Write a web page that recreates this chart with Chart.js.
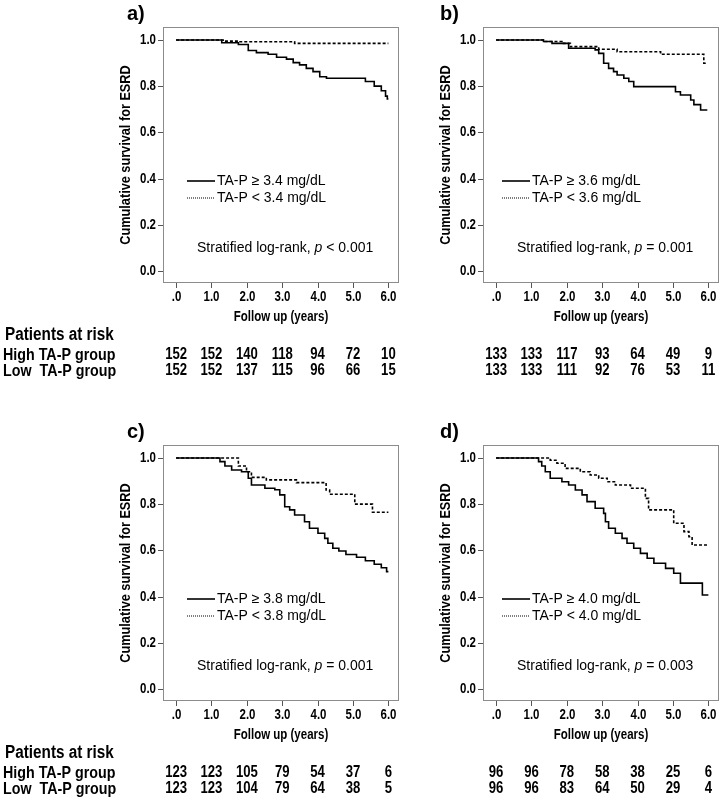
<!DOCTYPE html>
<html>
<head>
<meta charset="utf-8">
<script src="https://cdn.jsdelivr.net/npm/chart.js@4.4.1/dist/chart.umd.min.js"></script>
<style>
  body { margin: 0; background: #fff; }
  #wrap { position: relative; width: 723px; height: 800px; overflow: hidden; }
  canvas { position: absolute; }
</style>
</head>
<body>
<div id="wrap">
  <canvas id="chartA" width="403" height="400" style="left:0;top:0"></canvas>
  <canvas id="chartB" width="403" height="400" style="left:320px;top:0"></canvas>
  <canvas id="chartC" width="403" height="382" style="left:0;top:418px"></canvas>
  <canvas id="chartD" width="403" height="382" style="left:320px;top:418px"></canvas>
</div>
<script>
// follow-up time (years) of each step and survival after it
var aHighT = [0, 1.29, 1.76, 2.04, 2.27, 2.60, 2.84, 3.12, 3.31, 3.49, 3.68, 3.87, 4.06, 4.25, 5.35, 5.60, 5.80, 5.92, 5.97, 6.0];
var aHighS = [1, 0.988, 0.980, 0.954, 0.945, 0.938, 0.925, 0.917, 0.902, 0.892, 0.877, 0.863, 0.841, 0.834, 0.820, 0.800, 0.780, 0.757, 0.745, 0.745];
var aLowT = [0, 1.33, 1.75, 3.35, 6.0];
var aLowS = [1, 0.995, 0.992, 0.985, 0.985];

var bHighT = [0, 1.34, 1.58, 2.05, 2.80, 2.90, 3.04, 3.18, 3.32, 3.42, 3.61, 3.75, 3.89, 5.07, 5.21, 5.50, 5.59, 5.78, 5.97];
var bHighS = [1, 0.993, 0.985, 0.964, 0.957, 0.942, 0.899, 0.877, 0.863, 0.848, 0.834, 0.820, 0.798, 0.776, 0.762, 0.740, 0.720, 0.697, 0.697];
var bLowT = [0, 1.38, 1.86, 2.10, 2.90, 3.42, 4.65, 5.87, 5.97];
var bLowS = [1, 0.993, 0.985, 0.971, 0.960, 0.949, 0.938, 0.899, 0.899];

var cHighT = [0, 1.24, 1.38, 1.57, 1.85, 2.04, 2.13, 2.51, 2.79, 2.93, 3.07, 3.21, 3.35, 3.63, 3.77, 4.01, 4.20, 4.29, 4.43, 4.60, 4.80, 5.10, 5.35, 5.60, 5.80, 5.95, 6.0];
var cHighS = [1, 0.984, 0.965, 0.948, 0.940, 0.912, 0.883, 0.869, 0.862, 0.840, 0.789, 0.775, 0.753, 0.724, 0.696, 0.674, 0.652, 0.631, 0.609, 0.597, 0.582, 0.570, 0.555, 0.540, 0.525, 0.508, 0.508];
var cLowT = [0, 1.76, 1.99, 2.13, 2.55, 3.40, 4.24, 4.34, 5.05, 5.55, 6.0];
var cLowS = [1, 0.965, 0.940, 0.916, 0.905, 0.893, 0.861, 0.843, 0.800, 0.765, 0.765];

var dHighT = [0, 1.20, 1.29, 1.39, 1.53, 1.86, 2.05, 2.24, 2.43, 2.57, 2.80, 3.04, 3.09, 3.18, 3.37, 3.56, 3.70, 3.89, 4.08, 4.27, 4.46, 4.79, 5.02, 5.21, 5.83, 6.0];
var dHighS = [1, 0.984, 0.965, 0.940, 0.912, 0.897, 0.883, 0.861, 0.840, 0.811, 0.782, 0.760, 0.724, 0.696, 0.674, 0.652, 0.631, 0.609, 0.587, 0.566, 0.544, 0.522, 0.501, 0.458, 0.407, 0.407];
var dLowT = [0, 1.53, 1.72, 1.95, 2.38, 2.66, 2.90, 3.14, 3.37, 3.80, 4.22, 4.31, 5.02, 5.31, 5.45, 5.54, 6.0];
var dLowS = [1, 0.990, 0.977, 0.955, 0.940, 0.926, 0.912, 0.897, 0.883, 0.869, 0.825, 0.775, 0.717, 0.681, 0.659, 0.623, 0.623];

// axis ticks and patients at risk at 0..6 years
var xTicks = [0, 1, 2, 3, 4, 5, 6];
var xTickLabels = ['.0', '1.0', '2.0', '3.0', '4.0', '5.0', '6.0'];
var yTicks = [0, 0.2, 0.4, 0.6, 0.8, 1.0];
var yTickLabels = ['0.0', '0.2', '0.4', '0.6', '0.8', '1.0'];
var aRiskHigh = [152, 152, 140, 118, 94, 72, 10];
var aRiskLow = [152, 152, 137, 115, 96, 66, 15];
var bRiskHigh = [133, 133, 117, 93, 64, 49, 9];
var bRiskLow = [133, 133, 111, 92, 76, 53, 11];
var cRiskHigh = [123, 123, 105, 79, 54, 37, 6];
var cRiskLow = [123, 123, 104, 79, 64, 38, 5];
var dRiskHigh = [96, 96, 78, 58, 38, 25, 6];
var dRiskLow = [96, 96, 83, 64, 50, 29, 4];

var panelNames = ['a)', 'b)', 'c)', 'd)'];
var cutoffs = ['3.4', '3.6', '3.8', '4.0'];
var pValues = ['< 0.001', '= 0.001', '= 0.001', '= 0.003'];
var rowLabels = ['High TA-P group', 'Low  TA-P group'];

var sans = "'Liberation Sans', Arial, sans-serif";

function toPoints(ts, ss) {
  return ts.map(function (t, i) { return { x: t, y: ss[i] }; });
}

// Arial Narrow look-alike: bold Liberation Sans squeezed sideways
function narrowText(ctx, text, x, y, size, squeeze, align, rotate) {
  ctx.save();
  ctx.translate(x, y);
  if (rotate) ctx.rotate(-Math.PI / 2);
  ctx.scale(squeeze, 1);
  ctx.font = 'bold ' + size + 'px ' + sans;
  ctx.textAlign = align;
  ctx.textBaseline = 'middle';
  ctx.fillText(text, 0, 0);
  ctx.restore();
}

// box, ticks, axis titles, legend, p text, panel letter and the at-risk table
function extras(idx, riskHigh, riskLow, withRowLabels) {
  return {
    id: 'kmExtras' + idx,
    beforeDatasetsDraw: function (chart) {
      var a = chart.chartArea, ctx = chart.ctx;
      ctx.save();
      ctx.strokeStyle = '#8c8c8c';
      ctx.lineWidth = 1;
      ctx.strokeRect(a.left + 0.5, a.top + 0.5, a.right - a.left - 1, a.bottom - a.top - 1);
      ctx.restore();
    },
    afterDraw: function (chart) {
      var a = chart.chartArea, ctx = chart.ctx, xs = chart.scales.x, ys = chart.scales.y;
      ctx.save();
      ctx.fillStyle = '#000';
      // tick marks and labels
      ctx.strokeStyle = '#555';
      ctx.lineWidth = 1;
      xTicks.forEach(function (t, i) {
        var x = Math.round(xs.getPixelForValue(t)) + 0.5;
        ctx.beginPath(); ctx.moveTo(x, a.bottom); ctx.lineTo(x, a.bottom + 5); ctx.stroke();
        narrowText(ctx, xTickLabels[i], x, a.bottom + 14, 14, 0.82, 'center');
      });
      yTicks.forEach(function (t, i) {
        var y = Math.round(ys.getPixelForValue(t)) + 0.5;
        ctx.beginPath(); ctx.moveTo(a.left - 5, y); ctx.lineTo(a.left, y); ctx.stroke();
        narrowText(ctx, yTickLabels[i], a.left - 7, y, 14, 0.82, 'right');
      });
      narrowText(ctx, 'Follow up (years)', (a.left + a.right) / 2, a.bottom + 34, 14, 0.82, 'center');
      narrowText(ctx, 'Cumulative survival for ESRD', a.left - 37, (a.top + a.bottom) / 2, 15.5, 0.82, 'center', true);

      // legend
      var lx = a.left + (idx % 2 ? 19 : 24);
      var ly = a.top + 154;
      ctx.strokeStyle = '#000';
      ctx.lineWidth = 1.6;
      ctx.beginPath(); ctx.moveTo(lx, ly); ctx.lineTo(lx + 28, ly); ctx.stroke();
      ctx.lineWidth = 1;
      ctx.setLineDash([1, 1]);
      ctx.beginPath(); ctx.moveTo(lx, ly + 17); ctx.lineTo(lx + 28, ly + 17); ctx.stroke();
      ctx.setLineDash([]);
      ctx.textBaseline = 'middle';
      ctx.textAlign = 'left';
      ctx.font = '14px ' + sans;
      ctx.fillText('TA-P \u2265 ' + cutoffs[idx] + ' mg/dL', lx + 30, ly);
      ctx.fillText('TA-P < ' + cutoffs[idx] + ' mg/dL', lx + 30, ly + 17);

      // log-rank text
      var px = a.left + 34, py = a.top + 221;
      var s1 = 'Stratified log-rank, ';
      ctx.fillText(s1, px, py);
      px += ctx.measureText(s1).width;
      ctx.font = 'italic 14px ' + sans;
      ctx.fillText('p', px, py);
      px += ctx.measureText('p').width;
      ctx.font = '14px ' + sans;
      ctx.fillText(' ' + pValues[idx], px, py);

      // panel letter
      ctx.font = 'bold 20px ' + sans;
      ctx.fillText(panelNames[idx], a.left - (idx % 2 ? 43 : 36), a.top - 13);

      // patients at risk
      if (withRowLabels) {
        narrowText(ctx, 'Patients at risk', 5, a.bottom + 52, 18, 0.85, 'left');
        narrowText(ctx, rowLabels[0], 3, a.bottom + 72, 17, 0.84, 'left');
        narrowText(ctx, rowLabels[1], 3, a.bottom + 88, 17, 0.84, 'left');
      }
      xTicks.forEach(function (t, i) {
        var x = xs.getPixelForValue(t);
        narrowText(ctx, String(riskHigh[i]), x, a.bottom + 72, 16, 0.82, 'center');
        narrowText(ctx, String(riskLow[i]), x, a.bottom + 88, 16, 0.82, 'center');
      });
      ctx.restore();
    }
  };
}

function makeChart(id, idx, highT, highS, lowT, lowS, riskHigh, riskLow, withRowLabels) {
  var canvas = document.getElementById(id);
  return new Chart(canvas.getContext('2d'), {
    type: 'line',
    data: {
      datasets: [{
        label: 'High TA-P',
        data: toPoints(highT, highS),
        borderColor: '#000',
        borderWidth: 1.6,
        stepped: true,
        pointRadius: 0
      }, {
        label: 'Low TA-P',
        data: toPoints(lowT, lowS),
        borderColor: '#000',
        borderWidth: 1.6,
        borderDash: [3, 2],
        stepped: true,
        pointRadius: 0
      }]
    },
    options: {
      responsive: false,
      animation: false,
      devicePixelRatio: 1,
      layout: { padding: { left: 110, top: 27, right: 4, bottom: canvas.height - 324 } },
      plugins: { legend: { display: false }, tooltip: { enabled: false } },
      scales: {
        x: {
          type: 'linear',
          min: -0.37,
          max: 6.3,
          afterFit: function (s) { s.height = 41; },
          border: { display: false },
          grid: { display: false },
          ticks: { display: false }
        },
        y: {
          min: -0.052,
          max: 1.056,
          afterFit: function (s) { s.width = 53; },
          border: { display: false },
          grid: { display: false },
          ticks: { display: false }
        }
      }
    },
    plugins: [extras(idx, riskHigh, riskLow, withRowLabels)]
  });
}

makeChart('chartA', 0, aHighT, aHighS, aLowT, aLowS, aRiskHigh, aRiskLow, true);
makeChart('chartB', 1, bHighT, bHighS, bLowT, bLowS, bRiskHigh, bRiskLow, false);
makeChart('chartC', 2, cHighT, cHighS, cLowT, cLowS, cRiskHigh, cRiskLow, true);
makeChart('chartD', 3, dHighT, dHighS, dLowT, dLowS, dRiskHigh, dRiskLow, false);
</script>
</body>
</html>
